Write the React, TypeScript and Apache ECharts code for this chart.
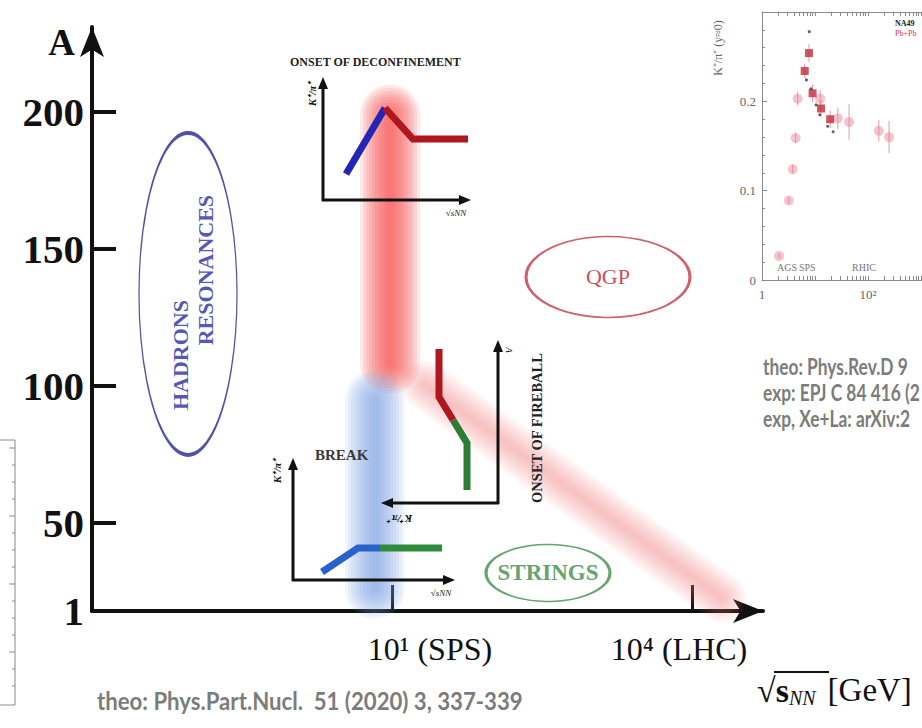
import React, { useEffect, useRef } from 'react';
import * as echarts from 'echarts';

// ---------- Main diagram: mass number A vs collision energy sqrt(s_NN) ----------
const yTickValues = [1, 50, 100, 150, 200];
const xTickEnergies = [10, 10000];
const xTickLabels = ['10¹ (SPS)', '10⁴ (LHC)'];

const regionNames = ['HADRONS RESONANCES', 'QGP', 'STRINGS'];
const regionEnergies = [0.0912, 1445, 363];
const regionA = [133.6, 139.8, 31.8];

const hadronWords = ['HADRONS', 'RESONANCES'];
const hadronWordEnergies = [0.0759, 0.138];
const hadronWordA = [111.3, 142.3];

const bandNames = ['onset of deconfinement', 'break', 'onset of fireball'];
const bandFromEnergy = [9.55, 6.76, 21.4];
const bandFromA = [199, 95, 100.4];
const bandToEnergy = [9.55, 6.76, 19950];
const bandToA = [108, 26, 22.6];

// ---------- Inset: K+/pi+ (y~0) vs sqrt(s_NN) ----------
const insetXTickLabels = ['1', '10²', '10⁴'];
const insetYTickValues = [0, 0.1, 0.2];
const pinkEnergy = [2.1, 3.2, 3.8, 4.3, 4.7, 12.5, 27, 44, 160, 250];
const pinkRatio = [0.027, 0.089, 0.124, 0.159, 0.203, 0.203, 0.181, 0.177, 0.167, 0.16];
const pinkError = [0.003, 0.004, 0.005, 0.006, 0.008, 0.01, 0.012, 0.02, 0.012, 0.018];
const redEnergy = [6.4, 7.7, 9.0, 13, 19.3];
const redRatio = [0.234, 0.254, 0.209, 0.192, 0.18];
const redError = [0.008, 0.01, 0.01, 0.01, 0.01];
const blackEnergy = [7.8, 6.9, 8.4, 10.5, 12.3, 17.3, 22];
const blackRatio = [0.278, 0.224, 0.214, 0.196, 0.185, 0.172, 0.166];

const refLines = ['theo: Phys.Rev.D 9', 'exp: EPJ C 84 416 (2', 'exp, Xe+La: arXiv:2'];
const refBottom = 'theo: Phys.Part.Nucl.  51 (2020) 3, 337-339';

const lg = Math.log10;
const SERIF = 'Liberation Serif';
const Y_ORIGIN = 17.9; // schematic axis: the "1" label sits at the origin

const bandStyles = [
  { rgb: '248,75,75', width: 60, layers: 10, alpha: 0.13 },
  { rgb: '115,160,228', width: 60, layers: 10, alpha: 0.1 },
  { rgb: '236,120,120', width: 48, layers: 8, alpha: 0.065 },
];

function measure(text: string, font: string) {
  const ctx = document.createElement('canvas').getContext('2d');
  if (!ctx) return text.length * 10;
  ctx.font = font;
  return ctx.measureText(text).width;
}

function arrowHead(tx: number, ty: number, dir: string, len = 12, half = 5) {
  let pts: number[][];
  if (dir === 'up') pts = [[tx, ty], [tx - half, ty + len], [tx + half, ty + len]];
  else if (dir === 'right') pts = [[tx, ty], [tx - len, ty - half], [tx - len, ty + half]];
  else pts = [[tx, ty], [tx + len, ty - half], [tx + len, ty + half]];
  return { type: 'polygon', z: 20, shape: { points: pts }, style: { fill: '#111' } };
}
function seg(x1: number, y1: number, x2: number, y2: number, w = 3, c = '#111') {
  return { type: 'line', z: 20, shape: { x1, y1, x2, y2 }, style: { stroke: c, lineWidth: w } };
}
function poly(points: number[][], stroke: any, w = 7) {
  return { type: 'polyline', z: 21, shape: { points }, style: { stroke, lineWidth: w, lineJoin: 'miter', lineCap: 'butt', fill: null } };
}
function txt(x: number, y: number, text: string, style: any, rotation = 0, scaleX = 1) {
  return { type: 'text', z: 22, x, y, rotation, scaleX, style: { text, align: 'center', verticalAlign: 'middle', ...style } };
}

function buildGraphics() {
  const g: any[] = [];
  const miniLbl = { font: `italic bold 11px ${SERIF}`, fill: '#111' };
  // --- onset of deconfinement mini-plot
  g.push(txt(290, 62, 'ONSET OF DECONFINEMENT', { font: `bold 12px ${SERIF}`, fill: '#222', align: 'left' }));
  g.push(seg(323, 201, 323, 86), arrowHead(323, 77, 'up'));
  g.push(seg(322, 200, 462, 200), arrowHead(471, 200, 'right'));
  g.push(txt(312, 94, 'K⁺/π⁺', miniLbl, Math.PI / 2));
  g.push(txt(456, 213, '√sNN', { font: `italic 9px ${SERIF}`, fill: '#222' }));
  g.push(poly([[346, 174], [385, 108]], '#2525b5'));
  g.push(poly([[385, 108], [413, 139], [468, 139]], '#b0161e'));
  // --- onset of fireball mini-plot (mirrored)
  g.push(seg(498, 504, 498, 349), arrowHead(498, 340, 'up'));
  g.push(seg(499, 503, 390, 503), arrowHead(381, 503, 'left'));
  g.push(txt(400, 519, 'K⁺/π⁺', miniLbl, Math.PI));
  g.push(txt(509, 350, 'A', { font: `italic 9px ${SERIF}`, fill: '#222' }, -Math.PI / 2));
  g.push(txt(537, 428, 'ONSET OF FIREBALL', { font: `bold 14.5px ${SERIF}`, fill: '#222' }, Math.PI / 2));
  g.push(poly([[439, 349], [439, 397], [453, 420]], '#b0161e'));
  g.push(poly([[453, 420], [467, 443], [467, 490]], '#2a7d32'));
  // --- break mini-plot
  g.push(txt(315, 455, 'BREAK', { font: `bold 15px ${SERIF}`, fill: '#3a3a3a', align: 'left' }));
  g.push(seg(293, 581, 293, 467), arrowHead(293, 458, 'up'));
  g.push(seg(292, 580, 446, 580), arrowHead(455, 580, 'right'));
  g.push(txt(277, 471, 'K⁺/π⁺', miniLbl, Math.PI / 2));
  g.push(txt(441, 593, '√sNN', { font: `italic 9px ${SERIF}`, fill: '#222' }));
  g.push(poly([[322, 572], [358, 548], [380, 548]], '#2a62cc'));
  g.push(poly([[380, 548], [442, 548]], '#2f8c3c'));
  // --- partial frame at left edge
  g.push({ type: 'polyline', z: 5, shape: { points: [[0, 440], [15, 440], [15, 705], [0, 705]] }, style: { stroke: '#8a8a8a', lineWidth: 1, fill: null } });
  for (let y = 448; y < 702; y += 17) g.push(seg(15, y, (y - 448) % 68 === 0 ? 9 : 12, y, 1, '#8a8a8a'));
  // --- inset decorations
  g.push(txt(718, 48, 'K⁺/π⁺ (y≈0)', { font: `12px ${SERIF}`, fill: '#666' }, Math.PI / 2));
  g.push(txt(777, 267, 'AGS', { font: `10px ${SERIF}`, fill: '#777', align: 'left' }));
  g.push(txt(799, 267, 'SPS', { font: `10px ${SERIF}`, fill: '#777', align: 'left' }));
  g.push(txt(852, 267, 'RHIC', { font: `10px ${SERIF}`, fill: '#777', align: 'left' }));
  g.push(txt(895, 23, 'NA49', { font: `bold 8px ${SERIF}`, fill: '#222', align: 'left' }));
  g.push(txt(895, 33, 'Pb+Pb', { font: `8px ${SERIF}`, fill: '#d04050', align: 'left' }));
  // --- references (condensed to imitate the narrow original typeface)
  const refFont = 'bold 23px Lato';
  const widest = Math.max(...refLines.map((t) => measure(t, refFont)));
  const refScale = Math.min(0.84, 157 / widest);
  refLines.forEach((t, i) => g.push(txt(763, 366 + i * 26, t, { font: refFont, fill: '#7c7c7c', align: 'left' }, 0, refScale)));
  const botFont = 'bold 24px Lato';
  g.push(txt(97, 701, refBottom, { font: botFont, fill: '#7c7c7c', align: 'left' }, 0, 426 / measure(refBottom, botFont)));
  // overline of the square root in the x-axis title
  g.push(seg(774, 672, 829, 672, 2, '#111'));
  return g;
}

export default function App() {
  const ref = useRef<HTMLDivElement>(null);
  useEffect(() => {
    if (!ref.current) return;
    const chart = echarts.init(ref.current, null, { renderer: 'svg' });

    const bandData = bandNames.map((n, i) => ({
      name: n,
      value: [lg(bandFromEnergy[i]), bandFromA[i], lg(bandToEnergy[i]), bandToA[i], i],
    }));

    const regionStyle = [
      { size: [98, 322], border: '#262690', label: { show: false } },
      { size: [164, 81], border: '#c23a44', label: { show: true, fontFamily: SERIF, fontSize: 22, color: '#b5222e' } },
      { size: [124, 57], border: '#3f8f4a', label: { show: true, fontFamily: SERIF, fontSize: 23, fontWeight: 'bold', color: '#3d8c47' } },
    ];

    const insetMinor: number[] = [];
    for (let d = 0; d < 4; d++) for (let k = 1; k <= 9; k++) insetMinor.push(d + lg(k));

    const insetXMax = 160 / 53;

    const option: any = {
      animation: false,
      backgroundColor: '#ffffff',
      grid: [
        { left: 92, top: 27, width: 671, height: 584 },
        { left: 762, top: 12, right: 0, height: 268, show: false },
      ],
      xAxis: [
        {
          gridIndex: 0, type: 'value', min: -2, max: 4.71,
          axisLine: { show: true, onZero: false, lineStyle: { color: '#111', width: 4 }, symbol: ['none', 'arrow'], symbolSize: [18, 30] },
          axisTick: { show: true, inside: true, length: 26, lineStyle: { color: '#111', width: 3 }, customValues: xTickEnergies.map(lg) },
          axisLabel: {
            customValues: [1.38, 3.87],
            formatter: (v: number) => (v < 2.5 ? xTickLabels[0] : xTickLabels[1]),
            fontFamily: SERIF, fontSize: 32, color: '#111', margin: 22,
          },
          splitLine: { show: false },
          name: '{r|√}{s|s}{n|NN}{g|[GeV]}',
          nameLocation: 'end', nameGap: -6,
          nameTextStyle: {
            align: 'left', verticalAlign: 'top', padding: [61, 0, 0, 0],
            rich: {
              r: { fontFamily: SERIF, fontSize: 34, color: '#111' },
              s: { fontFamily: SERIF, fontSize: 34, fontWeight: 'bold', color: '#111' },
              n: { fontFamily: SERIF, fontSize: 20, fontStyle: 'italic', color: '#111', padding: [16, 0, 0, 0] },
              g: { fontFamily: SERIF, fontSize: 33, color: '#111', padding: [0, 0, 0, 12] },
            },
          },
        },
        {
          gridIndex: 1, type: 'value', min: 0, max: insetXMax,
          axisLine: { show: true, onZero: false, lineStyle: { color: '#8a8a8a', width: 1 } },
          axisTick: { show: true, inside: true, length: 4, lineStyle: { color: '#8a8a8a' }, customValues: insetMinor },
          axisLabel: {
            customValues: [0, 2],
            formatter: (v: number) => insetXTickLabels[Math.round(v / 2)],
            fontFamily: SERIF, fontSize: 13, color: '#666', margin: 8,
          },
          splitLine: { show: false },
        },
        {
          gridIndex: 1, type: 'value', min: 0, max: insetXMax, position: 'top',
          axisLine: { show: true, onZero: false, lineStyle: { color: '#8a8a8a', width: 1 } },
          axisTick: { show: true, inside: true, length: 4, lineStyle: { color: '#8a8a8a' }, customValues: insetMinor },
          axisLabel: { show: false },
          splitLine: { show: false },
        },
      ],
      yAxis: [
        {
          gridIndex: 0, type: 'value', min: Y_ORIGIN, max: 231,
          axisLine: { show: true, onZero: false, lineStyle: { color: '#111', width: 4 }, symbol: ['none', 'arrow'], symbolSize: [18, 30] },
          axisTick: { show: true, inside: true, length: 24, lineStyle: { color: '#111', width: 4 }, customValues: yTickValues.slice(1) },
          axisLabel: {
            customValues: [Y_ORIGIN, ...yTickValues.slice(1)],
            formatter: (v: number) => (v < 40 ? String(yTickValues[0]) : String(v)),
            fontFamily: SERIF, fontWeight: 'bold', fontSize: 41, color: '#111', margin: 8,
          },
          splitLine: { show: false },
          name: 'A', nameLocation: 'end', nameGap: -15,
          nameTextStyle: { fontFamily: SERIF, fontWeight: 'bold', fontSize: 37, color: '#111', align: 'right', verticalAlign: 'middle', padding: [0, 17, 0, 0] },
        },
        {
          gridIndex: 1, type: 'value', min: 0, max: 0.3, interval: 0.1,
          axisLine: { show: true, onZero: false, lineStyle: { color: '#8a8a8a', width: 1 } },
          axisTick: { show: true, inside: true, length: 5, lineStyle: { color: '#8a8a8a' } },
          minorTick: { show: true, splitNumber: 5, length: 3, lineStyle: { color: '#8a8a8a' } },
          axisLabel: { customValues: insetYTickValues, formatter: (v: number) => String(Math.round(v * 10) / 10), fontFamily: SERIF, fontSize: 13, color: '#666', margin: 6 },
          splitLine: { show: false },
        },
      ],
      series: [
        {
          type: 'custom', name: 'bands', xAxisIndex: 0, yAxisIndex: 0, z: 1, silent: true,
          data: bandData,
          renderItem: (_p: any, api: any) => {
            const i = api.value(4);
            const p0 = api.coord([api.value(0), api.value(1)]);
            const p1 = api.coord([api.value(2), api.value(3)]);
            const st = bandStyles[i];
            const children: any[] = [];
            for (let k = 0; k < st.layers; k++) {
              const w = st.width * (1 - k / st.layers);
              children.push({ type: 'line', shape: { x1: p0[0], y1: p0[1], x2: p1[0], y2: p1[1] }, style: { stroke: `rgba(${st.rgb},${st.alpha})`, lineWidth: w, lineCap: 'round' } });
            }
            return { type: 'group', children };
          },
        },
        {
          type: 'scatter', name: 'regions', xAxisIndex: 0, yAxisIndex: 0, z: 5, silent: true,
          symbol: 'circle',
          data: regionNames.map((n, i) => ({
            name: n,
            value: [lg(regionEnergies[i]), regionA[i]],
            symbolSize: regionStyle[i].size,
            itemStyle: { color: 'rgba(0,0,0,0)', borderColor: regionStyle[i].border, borderWidth: 2.2 },
            label: { ...regionStyle[i].label, position: 'inside', formatter: '{b}' },
          })),
        },
        {
          type: 'scatter', name: 'hadron words', xAxisIndex: 0, yAxisIndex: 0, z: 6, silent: true,
          symbolSize: 1, itemStyle: { color: 'rgba(0,0,0,0)' },
          label: { show: true, position: 'inside', rotate: 90, formatter: '{b}', fontFamily: SERIF, fontWeight: 'bold', fontSize: 22, color: '#2a2aa0' },
          data: hadronWords.map((n, i) => ({ name: n, value: [lg(hadronWordEnergies[i]), hadronWordA[i]] })),
        },
        {
          type: 'custom', name: 'errors', xAxisIndex: 1, yAxisIndex: 1, z: 3, silent: true,
          data: pinkEnergy.map((e, i) => [lg(e), pinkRatio[i], pinkError[i]]).concat(redEnergy.map((e, i) => [lg(e), redRatio[i], redError[i]])),
          renderItem: (_p: any, api: any) => {
            const x = api.value(0), y = api.value(1), e = api.value(2);
            const a = api.coord([x, y + e]);
            const b = api.coord([x, y - e]);
            return { type: 'line', shape: { x1: a[0], y1: a[1], x2: b[0], y2: b[1] }, style: { stroke: 'rgba(220,120,140,0.75)', lineWidth: 1 } };
          },
        },
        {
          type: 'scatter', name: 'K+/pi+ world data', xAxisIndex: 1, yAxisIndex: 1, z: 4, silent: true,
          symbol: 'circle', symbolSize: 10, itemStyle: { color: 'rgba(232,130,150,0.6)' },
          data: pinkEnergy.map((e, i) => [lg(e), pinkRatio[i]]),
        },
        {
          type: 'scatter', name: 'Pb+Pb', xAxisIndex: 1, yAxisIndex: 1, z: 5, silent: true,
          symbol: 'rect', symbolSize: 8, itemStyle: { color: '#c42a3a' },
          data: redEnergy.map((e, i) => [lg(e), redRatio[i]]),
        },
        {
          type: 'scatter', name: 'NA49', xAxisIndex: 1, yAxisIndex: 1, z: 6, silent: true,
          symbol: 'circle', symbolSize: 3, itemStyle: { color: '#333' },
          data: blackEnergy.map((e, i) => [lg(e), blackRatio[i]]),
        },
      ],
      graphic: buildGraphics(),
    };
    chart.setOption(option);
    return () => chart.dispose();
  }, []);
  return <div ref={ref} style={{ width: 922, height: 728, position: 'absolute', left: 0, top: 0 }} />;
}
